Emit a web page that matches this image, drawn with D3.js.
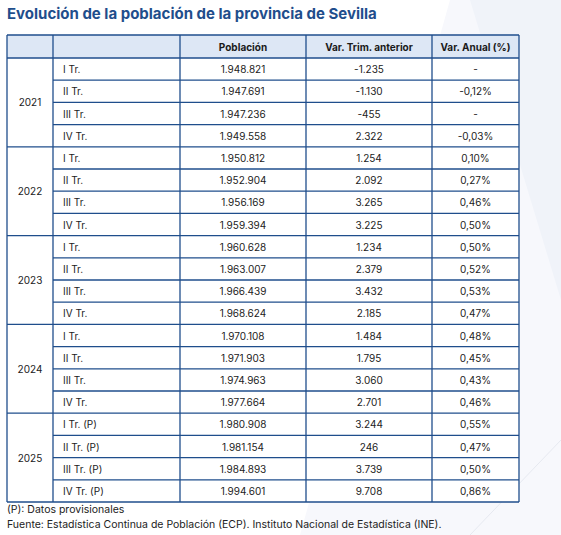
<!DOCTYPE html>
<html><head><meta charset="utf-8">
<script src="https://cdn.jsdelivr.net/npm/d3@7"></script>
<style>body{margin:0;background:#fff;}text{font-family:Inter,"Open Sans",sans-serif;}</style>
</head><body><div id="chart"></div>
<script>
// data
var years = ["2021", "2022", "2023", "2024", "2025"];
var quarters = ["I Tr.", "II Tr.", "III Tr.", "IV Tr.",
    "I Tr.", "II Tr.", "III Tr.", "IV Tr.",
    "I Tr.", "II Tr.", "III Tr.", "IV Tr.",
    "I Tr.", "II Tr.", "III Tr.", "IV Tr.",
    "I Tr. (P)", "II Tr. (P)", "III Tr. (P)", "IV Tr. (P)"];
var poblacion = ["1.948.821", "1.947.691", "1.947.236", "1.949.558",
    "1.950.812", "1.952.904", "1.956.169", "1.959.394",
    "1.960.628", "1.963.007", "1.966.439", "1.968.624",
    "1.970.108", "1.971.903", "1.974.963", "1.977.664",
    "1.980.908", "1.981.154", "1.984.893", "1.994.601"];
var varTrim = ["-1.235", "-1.130", "-455", "2.322",
    "1.254", "2.092", "3.265", "3.225",
    "1.234", "2.379", "3.432", "2.185",
    "1.484", "1.795", "3.060", "2.701",
    "3.244", "246", "3.739", "9.708"];
var varAnual = ["-", "-0,12%", "-", "-0,03%",
    "0,10%", "0,27%", "0,46%", "0,50%",
    "0,50%", "0,52%", "0,53%", "0,47%",
    "0,48%", "0,45%", "0,43%", "0,46%",
    "0,55%", "0,47%", "0,50%", "0,86%"];
var headers = ["", "", "Población", "Var. Trim. anterior", "Var. Anual (%)"];

var W = 561, H = 535, blue = "#1f4e8c";
var svg = d3.select("#chart").append("svg").attr("width", W).attr("height", H);

// faint background shapes
svg.append("polygon").attr("points", "450,0 561,0 561,535 300,535").attr("fill", "#f7f8fc");
svg.append("polygon").attr("points", "470,0 561,0 561,300").attr("fill", "#f0f3f9");
svg.append("line").attr("x1", 470).attr("y1", 535).attr("x2", 561).attr("y2", 440).attr("stroke", "#e6e9f0");

svg.append("text").attr("x", 7).attr("y", 19).attr("fill", blue)
    .attr("font-size", 15).attr("font-weight", 700).text("Evolución de la población de la provincia de Sevilla");

var colX = [7, 53, 180, 306, 432, 519];
var tableTop = 35, headH = 23;
var y = d3.scaleLinear().domain([0, quarters.length]).range([tableTop + headH, 502]);
var rowH = y(1) - y(0);

var g = svg.append("g");
// header
g.append("rect").attr("x", colX[0]).attr("y", tableTop).attr("width", colX[5] - colX[0]).attr("height", headH)
    .attr("fill", "#dde7f5");
g.append("rect").attr("x", colX[0]).attr("y", tableTop + headH).attr("width", colX[5] - colX[0])
    .attr("height", y(quarters.length) - tableTop - headH).attr("fill", "#fff");
headers.forEach(function (h, i) {
    g.append("text").attr("x", (colX[i] + colX[i + 1]) / 2).attr("y", tableTop + headH / 2 + 4)
        .attr("text-anchor", "middle").attr("font-size", 10).attr("font-weight", 700).attr("fill", "#1a1a1a").text(h);
});
// body cells
quarters.forEach(function (q, i) {
    var cy = y(i) + rowH / 2 + 4;
    g.append("text").attr("x", colX[1] + 10).attr("y", cy).attr("font-size", 10).attr("fill", "#222").text(q);
    [poblacion[i], varTrim[i], varAnual[i]].forEach(function (v, k) {
        g.append("text").attr("x", (colX[k + 2] + colX[k + 3]) / 2).attr("y", cy)
            .attr("text-anchor", "middle").attr("font-size", 10).attr("fill", "#222").text(v);
    });
});
years.forEach(function (yr, j) {
    g.append("text").attr("x", (colX[0] + colX[1]) / 2).attr("y", (y(j * 4) + y(j * 4 + 4)) / 2 + 4)
        .attr("text-anchor", "middle").attr("font-size", 10).attr("fill", "#222").text(yr);
});
// grid lines
var lines = g.append("g").attr("stroke", blue).attr("stroke-width", 1.3);
lines.append("line").attr("x1", colX[0]).attr("x2", colX[5]).attr("y1", tableTop).attr("y2", tableTop);
d3.range(quarters.length + 1).forEach(function (i) {
    lines.append("line").attr("x1", i % 4 === 0 ? colX[0] : colX[1]).attr("x2", colX[5])
        .attr("y1", y(i)).attr("y2", y(i));
});
colX.forEach(function (x) {
    lines.append("line").attr("x1", x).attr("x2", x).attr("y1", tableTop).attr("y2", y(quarters.length));
});

svg.append("text").attr("x", 7).attr("y", 513).attr("font-size", 10.5).attr("fill", "#222").text("(P): Datos provisionales");
svg.append("text").attr("x", 7).attr("y", 528).attr("font-size", 10.5).attr("fill", "#222")
    .text("Fuente: Estadística Continua de Población (ECP). Instituto Nacional de Estadística (INE).");
</script></body></html>
